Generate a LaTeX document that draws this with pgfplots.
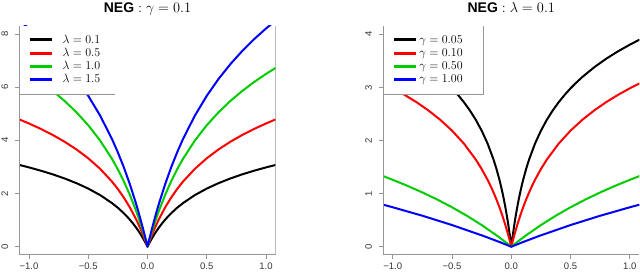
\documentclass[border=0pt]{standalone}
\usepackage[no-math]{fontspec}
\setmainfont{Liberation Sans}
\usepackage{pgfplots}
\pgfplotsset{compat=1.18}
\definecolor{axgray}{RGB}{150,150,150}
\definecolor{labgray}{RGB}{55,55,55}
\definecolor{rgreen}{RGB}{0,205,0}
\begin{document}
\begin{tikzpicture}
\pgfplotsset{
  negax/.style={
    scale only axis, width=256pt, height=228.3pt,
    xmin=-1.08, xmax=1.08,
    axis x line*=bottom, axis y line*=left,
    axis line style={draw=axgray, line width=0.9pt},
    every tick/.style={draw=axgray, line width=0.9pt},
    tick align=outside, major tick length=4.5pt,
    xtick={-1,-0.5,0,0.5,1},
    xticklabels={−1.0,−0.5,0.0,0.5,1.0},
    xticklabel style={font=\fontsize{9.5}{10}\selectfont, text=labgray, inner sep=0pt, anchor=north, yshift=-4pt},
    yticklabel style={font=\fontsize{9.5}{10}\selectfont, text=labgray, inner sep=0pt, xshift=-6.7pt, rotate=90, anchor=south},
    axis on top, clip=true,
    every axis plot/.append style={line width=2pt, line join=round, line cap=round},
    legend cell align=left,
    legend style={at={(0,1)}, anchor=north west, draw=none, fill=none,
      inner xsep=8.8pt, inner ysep=8pt, row sep=1.7pt,
      font=\fontsize{12.5}{13}\selectfont,
      nodes={inner sep=0pt, text height=9pt, text depth=2.5pt}},
  }
}
% ---------------- left panel ----------------
\begin{axis}[negax, at={(19.5pt,16.7pt)}, anchor=south west,
  ymin=-0.286, ymax=8.30, ytick={0,2,4,6,8}, yticklabels={0,2,4,6,8},
  legend image code/.code={\draw[#1,line width=3pt,line cap=butt] (0pt,0pt) -- (22.4pt,0pt); \path (31.7pt,0pt);}]
\addplot[black] coordinates {(-1.08,3.0728)(-1.0,2.9823)(-0.9,2.8588)(-0.8,2.7215)(-0.7,2.5670)(-0.6,2.3907)(-0.5,2.1857)(-0.4,1.9417)(-0.3,1.6418)(-0.25,1.4630)(-0.2,1.2590)(-0.175,1.1451)(-0.15,1.0220)(-0.125,0.8883)(-0.1,0.7427)(-0.075,0.5831)(-0.05,0.4079)(-0.025,0.2143)(-0.02,0.1733)(-0.01,0.0885)(0,0)(0.01,0.0885)(0.02,0.1733)(0.025,0.2143)(0.05,0.4079)(0.075,0.5831)(0.1,0.7427)(0.125,0.8883)(0.15,1.0220)(0.175,1.1451)(0.2,1.2590)(0.25,1.4630)(0.3,1.6418)(0.4,1.9417)(0.5,2.1857)(0.6,2.3907)(0.7,2.5670)(0.8,2.7215)(0.9,2.8588)(1.0,2.9823)(1.08,3.0728)};
\addplot[red] coordinates {(-1.08,4.7841)(-1.0,4.6342)(-0.9,4.4300)(-0.8,4.2035)(-0.7,3.9491)(-0.6,3.6599)(-0.5,3.3250)(-0.4,2.9301)(-0.3,2.4507)(-0.25,2.1685)(-0.2,1.8499)(-0.15,1.4860)(-0.1,1.0662)(-0.08,0.8796)(-0.06,0.6809)(-0.04,0.4688)(-0.02,0.2423)(-0.01,0.1232)(0,0)(0.01,0.1232)(0.02,0.2423)(0.04,0.4688)(0.06,0.6809)(0.08,0.8796)(0.1,1.0662)(0.15,1.4860)(0.2,1.8499)(0.25,2.1685)(0.3,2.4507)(0.4,2.9301)(0.5,3.3250)(0.6,3.6599)(0.7,3.9491)(0.8,4.2035)(0.9,4.4300)(1.0,4.6342)(1.08,4.7841)};
\addplot[rgreen] coordinates {(-1.08,6.7207)(-1.0,6.4979)(-0.9,6.1947)(-0.8,5.8589)(-0.7,5.4831)(-0.6,5.0574)(-0.5,4.5676)(-0.4,3.9937)(-0.3,3.3070)(-0.25,2.9079)(-0.2,2.4622)(-0.15,1.9608)(-0.1,1.3926)(-0.08,1.1437)(-0.06,0.8810)(-0.04,0.6036)(-0.02,0.3103)(-0.01,0.1573)(0,0)(0.01,0.1573)(0.02,0.3103)(0.04,0.6036)(0.06,0.8810)(0.08,1.1437)(0.1,1.3926)(0.15,1.9608)(0.2,2.4622)(0.25,2.9079)(0.3,3.3070)(0.4,3.9937)(0.5,4.5676)(0.6,5.0574)(0.7,5.4831)(0.8,5.8589)(0.9,6.1947)(1.0,6.4979)(1.08,6.7207)};
\addplot[blue] coordinates {(-1.08,8.5016)(-1.0,8.2067)(-0.9,7.8062)(-0.8,7.3637)(-0.7,6.8698)(-0.6,6.3122)(-0.5,5.6747)(-0.4,4.9324)(-0.3,4.0528)(-0.25,3.5471)(-0.2,2.9875)(-0.15,2.3648)(-0.1,1.6679)(-0.08,1.3657)(-0.06,1.0487)(-0.04,0.7161)(-0.02,0.3669)(-0.01,0.1857)(0,0)(0.01,0.1857)(0.02,0.3669)(0.04,0.7161)(0.06,1.0487)(0.08,1.3657)(0.1,1.6679)(0.15,2.3648)(0.2,2.9875)(0.25,3.5471)(0.3,4.0528)(0.4,4.9324)(0.5,5.6747)(0.6,6.3122)(0.7,6.8698)(0.8,7.3637)(0.9,7.8062)(1.0,8.2067)(1.08,8.5016)};
\fill[white] (axis cs:-1.076,5.743) rectangle (axis cs:-0.2742,8.30);
\draw[axgray, line width=0.9pt] (axis cs:-1.08,5.743) -- (axis cs:-0.2742,5.743);
\draw[axgray, line width=0.9pt] (rel axis cs:1,0) -- (rel axis cs:1,1);
\legend{$\lambda = 0.1$, $\lambda = 0.5$, $\lambda = 1.0$, $\lambda = 1.5$}
\end{axis}
% ---------------- right panel ----------------
\begin{axis}[negax, at={(383.3pt,16.7pt)}, anchor=south west,
  ymin=-0.143, ymax=4.156, ytick={0,1,2,3,4}, yticklabels={0,1,2,3,4},
  legend image code/.code={\draw[#1,line width=3pt,line cap=butt] (0pt,0pt) -- (22.4pt,0pt); \path (24.5pt,0pt);}]
\addplot[black] coordinates {(-1.08,3.8964)(-1.0,3.8045)(-0.9,3.6788)(-0.8,3.5386)(-0.7,3.3799)(-0.6,3.1972)(-0.54,3.0728)(-0.5,2.9823)(-0.45,2.8588)(-0.4,2.7215)(-0.35,2.5670)(-0.3,2.3907)(-0.25,2.1857)(-0.2,1.9417)(-0.15,1.6418)(-0.125,1.4630)(-0.1,1.2590)(-0.0875,1.1451)(-0.075,1.0220)(-0.0625,0.8883)(-0.05,0.7427)(-0.0375,0.5831)(-0.025,0.4079)(-0.0125,0.2143)(-0.01,0.1733)(-0.005,0.0885)(0,0)(0.005,0.0885)(0.01,0.1733)(0.0125,0.2143)(0.025,0.4079)(0.0375,0.5831)(0.05,0.7427)(0.0625,0.8883)(0.075,1.0220)(0.0875,1.1451)(0.1,1.2590)(0.125,1.4630)(0.15,1.6418)(0.2,1.9417)(0.25,2.1857)(0.3,2.3907)(0.35,2.5670)(0.4,2.7215)(0.45,2.8588)(0.5,2.9823)(0.54,3.0728)(0.6,3.1972)(0.7,3.3799)(0.8,3.5386)(0.9,3.6788)(1.0,3.8045)(1.08,3.8964)};
\addplot[red] coordinates {(-1.08,3.0728)(-1.0,2.9823)(-0.9,2.8588)(-0.8,2.7215)(-0.7,2.5670)(-0.6,2.3907)(-0.5,2.1857)(-0.4,1.9417)(-0.3,1.6418)(-0.25,1.4630)(-0.2,1.2590)(-0.175,1.1451)(-0.15,1.0220)(-0.125,0.8883)(-0.1,0.7427)(-0.075,0.5831)(-0.05,0.4079)(-0.025,0.2143)(-0.02,0.1733)(-0.01,0.0885)(0,0)(0.01,0.0885)(0.02,0.1733)(0.025,0.2143)(0.05,0.4079)(0.075,0.5831)(0.1,0.7427)(0.125,0.8883)(0.15,1.0220)(0.175,1.1451)(0.2,1.2590)(0.25,1.4630)(0.3,1.6418)(0.4,1.9417)(0.5,2.1857)(0.6,2.3907)(0.7,2.5670)(0.8,2.7215)(0.9,2.8588)(1.0,2.9823)(1.08,3.0728)};
\addplot[rgreen] coordinates {(-1.08,1.3290)(-1.0,1.2590)(-0.875,1.1451)(-0.75,1.0220)(-0.625,0.8883)(-0.5,0.7427)(-0.375,0.5831)(-0.25,0.4079)(-0.125,0.2143)(-0.1,0.1733)(-0.05,0.0885)(0,0)(0.05,0.0885)(0.1,0.1733)(0.125,0.2143)(0.25,0.4079)(0.375,0.5831)(0.5,0.7427)(0.625,0.8883)(0.75,1.0220)(0.875,1.1451)(1.0,1.2590)(1.08,1.3290)};
\addplot[blue] coordinates {(-1.08,0.7907)(-1.0,0.7427)(-0.75,0.5831)(-0.5,0.4079)(-0.25,0.2143)(-0.2,0.1733)(-0.1,0.0885)(0,0)(0.1,0.0885)(0.2,0.1733)(0.25,0.2143)(0.5,0.4079)(0.75,0.5831)(1.0,0.7427)(1.08,0.7907)};
\fill[white] (axis cs:-1.076,2.876) rectangle (axis cs:-0.236,4.156);
\draw[axgray, line width=0.9pt] (axis cs:-1.08,2.876) -- (axis cs:-0.236,2.876) -- (axis cs:-0.236,4.156);
\legend{$\gamma = 0.05$, $\gamma = 0.10$, $\gamma = 0.50$, $\gamma = 1.00$}
\end{axis}
% titles
\node[anchor=base, inner sep=0pt] at (147.5pt,258.3pt) {\fontsize{14}{14}\selectfont\textbf{NEG} $:\gamma = 0.1$};
\node[anchor=base, inner sep=0pt] at (511.3pt,258.3pt) {\fontsize{14}{14}\selectfont\textbf{NEG} $:\lambda = 0.1$};
\pgfresetboundingbox
\path[use as bounding box] (0pt,0pt) rectangle (640pt,271pt);
\end{tikzpicture}
\end{document}
